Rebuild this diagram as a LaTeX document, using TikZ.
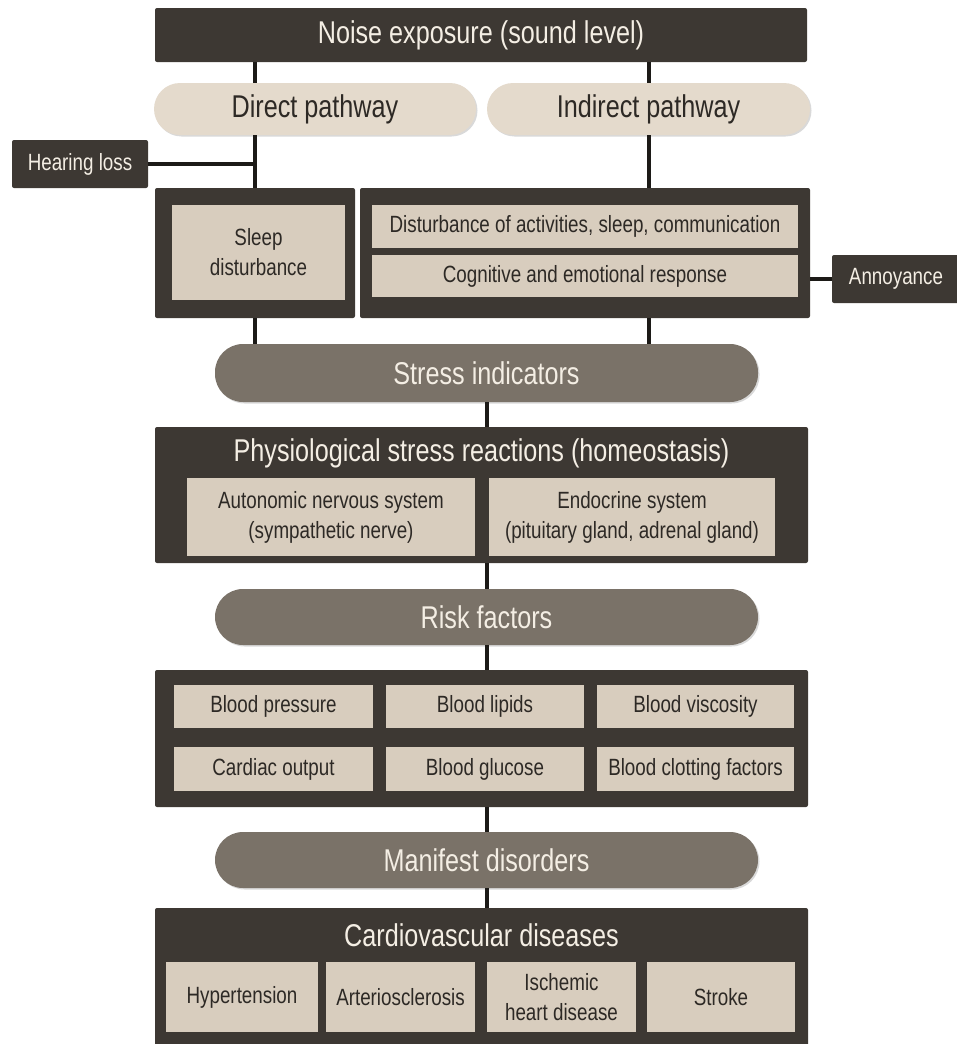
\documentclass[tikz,border=0pt]{standalone}
\usepackage{fontspec}
\newfontfamily\diagfont{Liberation Sans}[FakeStretch=0.8]
\usetikzlibrary{shadows}
\definecolor{noiseDark}{RGB}{61,56,51}
\definecolor{noiseGray}{RGB}{122,114,104}
\definecolor{noiseBeige}{RGB}{216,205,190}
\definecolor{noiseSand}{RGB}{228,218,204}
\definecolor{noiseLine}{RGB}{28,26,23}
\definecolor{noiseText}{RGB}{244,238,228}
\definecolor{noiseInk}{RGB}{45,41,37}

\begin{document}
\begin{tikzpicture}[x=1pt,y=-1pt,
    bigfont/.style={font=\diagfont\fontsize{31.5}{36}\selectfont},
    smallfont/.style={font=\diagfont\fontsize{23.5}{30}\selectfont},
    groupframe/.style={fill=noiseDark,rounded corners=2pt,inner sep=0pt},
    darkbox/.style={fill=noiseDark,text=noiseText,rounded corners=2pt,inner sep=0pt,bigfont},
    innerbox/.style={fill=noiseBeige,text=noiseInk,inner sep=0pt,smallfont},
    sandpill/.style={fill=noiseSand,text=noiseInk,rounded corners=26pt,inner sep=0pt,bigfont,
        drop shadow={opacity=0.3,shadow xshift=1.5pt,shadow yshift=-1.5pt}},
    graypill/.style={fill=noiseGray,text=noiseText,rounded corners=28pt,inner sep=0pt,bigfont,
        drop shadow={opacity=0.3,shadow xshift=1.5pt,shadow yshift=-1.5pt}},
    link/.style={draw=noiseLine,line width=4pt}]
    \useasboundingbox (0,0) rectangle (957,1044);

    % Noise exposure
    \node[darkbox,minimum width=652,minimum height=54] (noise) at (481,35) {Noise exposure (sound level)};

    % Pathways
    \node[sandpill,minimum width=322,minimum height=52] (direct) at (315,109) {Direct pathway};
    \node[sandpill,minimum width=323,minimum height=52] (indirect) at (648.5,109) {Indirect pathway};

    % Hearing loss
    \node[darkbox,smallfont,minimum width=136,minimum height=48] (hearing) at (80,164) {Hearing loss};

    % Direct effects
    \node[groupframe,minimum width=200,minimum height=130] (sleepframe) at (255,253) {};
    \node[innerbox,minimum width=173,minimum height=95,align=center] (sleep) at (258.5,252.5) {Sleep\\disturbance};

    % Indirect effects
    \node[groupframe,minimum width=450,minimum height=130] (indframe) at (585,253) {};
    \node[innerbox,minimum width=426,minimum height=43] (activities) at (585,226.5) {Disturbance of activities, sleep, communication};
    \node[innerbox,minimum width=426,minimum height=42] (cognitive) at (585,276) {Cognitive and emotional response};

    % Annoyance
    \node[darkbox,smallfont,minimum width=128,minimum height=48] (annoyance) at (896,279) {Annoyance};

    % Stress indicators
    \node[graypill,minimum width=543,minimum height=58] (stress) at (486.5,373) {Stress indicators};

    % Physiological stress reactions
    \node[groupframe,minimum width=653,minimum height=136] (physframe) at (481.5,495) {};
    \node[text=noiseText,bigfont] (phystitle) at (481.5,453) {Physiological stress reactions (homeostasis)};
    \node[innerbox,minimum width=288,minimum height=78,align=center] (autonomic) at (331,517) {Autonomic nervous system\\(sympathetic nerve)};
    \node[innerbox,minimum width=286,minimum height=78,align=center] (endocrine) at (632,517) {Endocrine system\\(pituitary gland, adrenal gland)};

    % Risk factors
    \node[graypill,minimum width=543,minimum height=56] (risk) at (486.5,617) {Risk factors};
    \node[groupframe,minimum width=653,minimum height=137] (riskframe) at (481.5,738.5) {};
    \node[innerbox,minimum width=199,minimum height=43] (pressure) at (273.5,706.5) {Blood pressure};
    \node[innerbox,minimum width=198,minimum height=43] (lipids) at (485,706.5) {Blood lipids};
    \node[innerbox,minimum width=197,minimum height=43] (viscosity) at (695.5,706.5) {Blood viscosity};
    \node[innerbox,minimum width=199,minimum height=44] (cardiac) at (273.5,769) {Cardiac output};
    \node[innerbox,minimum width=198,minimum height=44] (glucose) at (485,769) {Blood glucose};
    \node[innerbox,minimum width=197,minimum height=44] (clotting) at (695.5,769) {Blood clotting factors};

    % Manifest disorders
    \node[graypill,minimum width=543,minimum height=56] (manifest) at (486.5,860) {Manifest disorders};

    % Cardiovascular diseases
    \node[groupframe,minimum width=653,minimum height=140] (cvdframe) at (481.5,978) {};
    \node[text=noiseText,bigfont] (cvdtitle) at (481.5,935) {Cardiovascular diseases};
    \node[innerbox,minimum width=152,minimum height=70] (hypertension) at (242,997) {Hypertension};
    \node[innerbox,minimum width=149,minimum height=70] (arterio) at (400.5,997) {Arteriosclerosis};
    \node[innerbox,minimum width=149,minimum height=70,align=center] (ischemic) at (561.5,997) {Ischemic\\heart disease};
    \node[innerbox,minimum width=148,minimum height=70] (stroke) at (721,997) {Stroke};

    % Connections
    \draw[link] (noise.south -| sleepframe.center) -- (direct.north -| sleepframe.center);
    \draw[link] (direct.south -| sleepframe.center) -- (sleepframe.north);
    \draw[link] (hearing.east) -- (hearing.east -| sleepframe.north);
    \draw[link] (noise.south -| indirect.center) -- (indirect.north);
    \draw[link] (indirect.south) -- (indirect.south |- indframe.north);
    \draw[link] (annoyance.west -| indframe.east) -- (annoyance.west);
    \draw[link] (sleepframe.south) -- (stress.north -| sleepframe.south);
    \draw[link] (indframe.south -| indirect.center) -- (stress.north -| indirect.center);
    \draw[link] (stress.south) -- (stress.south |- physframe.north);
    \draw[link] (physframe.south -| stress.south) -- (risk.north);
    \draw[link] (risk.south) -- (risk.south |- riskframe.north);
    \draw[link] (riskframe.south -| risk.south) -- (manifest.north);
    \draw[link] (manifest.south) -- (manifest.south |- cvdframe.north);
\end{tikzpicture}
\end{document}
